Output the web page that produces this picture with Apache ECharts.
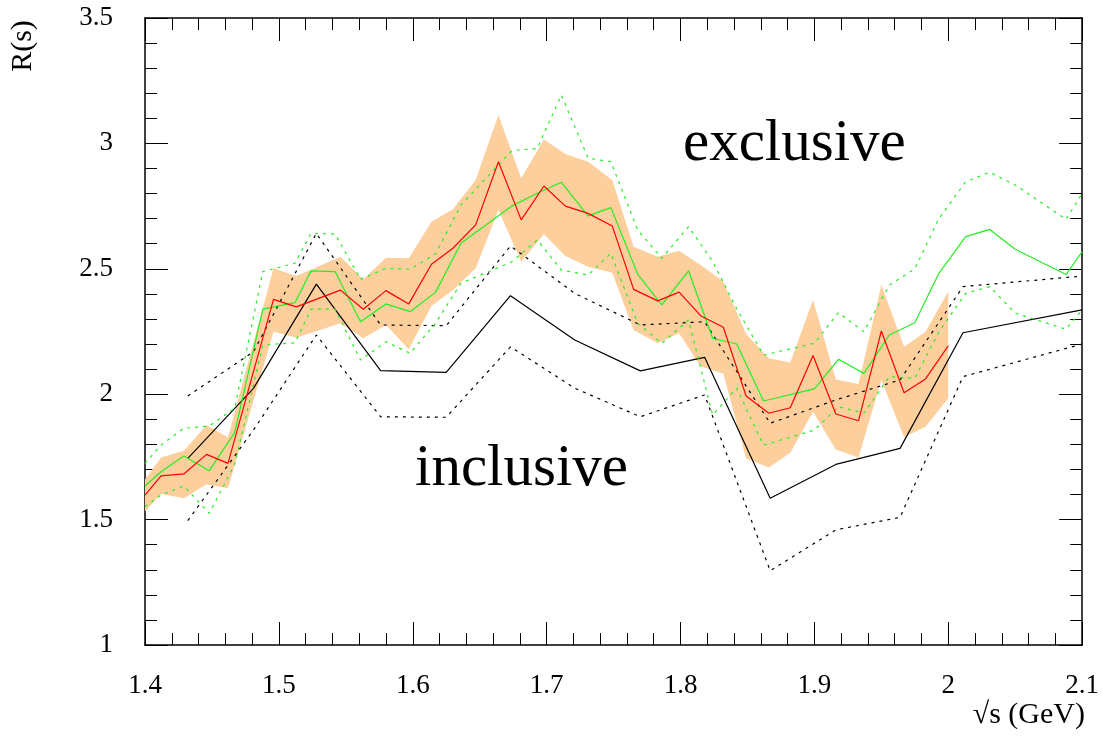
<!DOCTYPE html>
<html>
<head>
<meta charset="utf-8">
<script src="https://cdn.jsdelivr.net/npm/echarts@6/dist/echarts.min.js"></script>
<style>
  html, body { margin: 0; padding: 0; background: #fff; }
  #chart { width: 1102px; height: 737px; }
</style>
</head>
<body>
<div id="chart"></div>
<script>
// exclusive sum: central value (red) and error band (orange)
const bandX = [1.400, 1.412, 1.429, 1.446, 1.462, 1.496, 1.513, 1.546, 1.563, 1.580, 1.597, 1.614, 1.630, 1.647, 1.664, 1.681, 1.698, 1.714, 1.731, 1.749, 1.765, 1.783, 1.799, 1.815, 1.832, 1.849, 1.866, 1.882, 1.899, 1.916, 1.933, 1.950, 1.967, 1.983, 2.000];
const redY = [1.598, 1.674, 1.682, 1.760, 1.724, 2.378, 2.348, 2.415, 2.339, 2.413, 2.360, 2.518, 2.582, 2.675, 2.927, 2.695, 2.830, 2.750, 2.721, 2.671, 2.418, 2.372, 2.407, 2.313, 2.267, 1.993, 1.924, 1.946, 2.154, 1.921, 1.894, 2.252, 2.006, 2.061, 2.193];
const bandUp = [1.660, 1.748, 1.775, 1.876, 1.828, 2.502, 2.471, 2.548, 2.458, 2.544, 2.542, 2.688, 2.737, 2.854, 3.113, 2.861, 3.016, 2.958, 2.927, 2.854, 2.588, 2.548, 2.572, 2.515, 2.449, 2.240, 2.143, 2.126, 2.376, 2.059, 2.041, 2.435, 2.189, 2.249, 2.409];
const bandLow = [1.532, 1.602, 1.585, 1.641, 1.625, 2.249, 2.225, 2.283, 2.223, 2.276, 2.179, 2.352, 2.415, 2.502, 2.734, 2.528, 2.639, 2.551, 2.508, 2.484, 2.256, 2.203, 2.243, 2.110, 2.083, 1.744, 1.708, 1.767, 1.930, 1.780, 1.748, 2.057, 1.828, 1.870, 1.984];

// green curve with its dotted limits
const greenX = [1.400, 1.412, 1.429, 1.448, 1.467, 1.488, 1.512, 1.524, 1.542, 1.561, 1.580, 1.598, 1.617, 1.636, 1.674, 1.693, 1.711, 1.731, 1.748, 1.768, 1.786, 1.806, 1.824, 1.842, 1.862, 1.900, 1.918, 1.937, 1.956, 1.975, 1.993, 2.013, 2.031, 2.050, 2.088, 2.100];
const greenY = [1.634, 1.691, 1.754, 1.695, 1.847, 2.339, 2.365, 2.492, 2.489, 2.289, 2.360, 2.329, 2.406, 2.602, 2.750, 2.801, 2.845, 2.711, 2.744, 2.479, 2.356, 2.492, 2.223, 2.200, 1.973, 2.021, 2.139, 2.083, 2.236, 2.285, 2.482, 2.628, 2.657, 2.578, 2.477, 2.568];
const greenUp = [1.724, 1.797, 1.864, 1.873, 1.944, 2.489, 2.522, 2.641, 2.639, 2.458, 2.502, 2.498, 2.559, 2.754, 2.971, 2.980, 3.193, 2.941, 2.927, 2.655, 2.542, 2.668, 2.530, 2.340, 2.156, 2.203, 2.325, 2.249, 2.435, 2.500, 2.700, 2.847, 2.885, 2.834, 2.697, 2.801];
const greenLow = [1.551, 1.598, 1.634, 1.525, 1.720, 2.196, 2.205, 2.339, 2.339, 2.136, 2.209, 2.163, 2.283, 2.442, 2.528, 2.615, 2.495, 2.475, 2.562, 2.283, 2.203, 2.296, 1.917, 2.024, 1.797, 1.857, 1.950, 1.924, 2.070, 2.063, 2.249, 2.402, 2.429, 2.323, 2.259, 2.336];

// inclusive (black) with dotted limits
const blackX = [1.432, 1.481, 1.528, 1.576, 1.625, 1.673, 1.721, 1.770, 1.818, 1.867, 1.916, 1.964, 2.011, 2.100];
const blackY = [1.744, 2.023, 2.439, 2.094, 2.087, 2.393, 2.216, 2.093, 2.147, 1.585, 1.720, 1.784, 2.245, 2.336];
const blackUp = [1.993, 2.169, 2.641, 2.276, 2.273, 2.591, 2.402, 2.276, 2.289, 1.884, 1.977, 2.057, 2.429, 2.471];
const blackLow = [1.496, 1.857, 2.236, 1.910, 1.908, 2.189, 2.024, 1.910, 1.997, 1.296, 1.459, 1.509, 2.070, 2.200];

const serif = '"Liberation Serif", "DejaVu Serif", serif';

function zip(xs, ys) {
  return xs.map((x, i) => [x, ys[i]]);
}

function lineSeries(xs, ys, color, type, z) {
  return {
    type: 'line',
    data: zip(xs, ys),
    showSymbol: false,
    symbol: 'none',
    silent: true,
    z: z,
    lineStyle: { color: color, width: 1.2, type: type }
  };
}

const tickCommon = {
  axisLine: { show: true, lineStyle: { color: '#000', width: 1.5 } },
  axisTick: { show: true, inside: true, length: 23, lineStyle: { color: '#000', width: 1 } },
  minorTick: { show: true, splitNumber: 5, length: 12, lineStyle: { color: '#000', width: 1 } },
  splitLine: { show: false },
  minorSplitLine: { show: false }
};

const myChart = echarts.init(document.getElementById('chart'), null, { renderer: 'canvas' });

const option = {
  animation: false,
  backgroundColor: '#fff',
  grid: { left: 145, right: 16, top: 18, bottom: 92 },
  xAxis: [
    Object.assign({
      type: 'value', min: 1.4, max: 2.1, interval: 0.1, position: 'bottom',
      axisLabel: {
        margin: 27, color: '#000', fontFamily: serif, fontSize: 27,
        formatter: v => String(Math.round(v * 10) / 10)
      }
    }, tickCommon),
    Object.assign({
      type: 'value', min: 1.4, max: 2.1, interval: 0.1, position: 'top',
      axisLabel: { show: false }
    }, tickCommon)
  ],
  yAxis: [
    Object.assign({
      type: 'value', min: 1, max: 3.5, interval: 0.5, position: 'left',
      axisLabel: {
        margin: 32, color: '#000', fontFamily: serif, fontSize: 27,
        formatter: v => String(v)
      }
    }, tickCommon),
    Object.assign({
      type: 'value', min: 1, max: 3.5, interval: 0.5, position: 'right',
      axisLabel: { show: false }
    }, tickCommon)
  ],
  series: [
    {
      type: 'custom',
      silent: true,
      z: 1,
      clip: true,
      data: [[bandX[0], bandUp[0]]],
      renderItem: function (params, api) {
        const pts = [];
        for (let i = 0; i < bandX.length; i++) pts.push(api.coord([bandX[i], bandUp[i]]));
        for (let i = bandX.length - 1; i >= 0; i--) pts.push(api.coord([bandX[i], bandLow[i]]));
        return { type: 'polygon', shape: { points: pts }, style: { fill: '#fccf9d' } };
      }
    },
    lineSeries(blackX, blackUp, '#000', [3, 5], 2),
    lineSeries(blackX, blackLow, '#000', [3, 5], 2),
    lineSeries(blackX, blackY, '#000', 'solid', 3),
    lineSeries(greenX, greenUp, '#22ee22', [3, 5], 4),
    lineSeries(greenX, greenLow, '#22ee22', [3, 5], 4),
    lineSeries(greenX, greenY, '#22ee22', 'solid', 5),
    lineSeries(bandX, redY, '#ff0000', 'solid', 6)
  ],
  graphic: [
    { type: 'text', left: 683, top: 115, silent: true,
      style: { text: 'exclusive', font: '59px ' + serif, fill: '#000' } },
    { type: 'text', left: 415, top: 440, silent: true,
      style: { text: 'inclusive', font: '59px ' + serif, fill: '#000' } },
    { type: 'text', x: 23, y: 46, rotation: Math.PI / 2, silent: true,
      style: { text: 'R(s)', font: '30px ' + serif, fill: '#000', align: 'center', verticalAlign: 'middle' } },
    { type: 'text', right: 17, top: 700, silent: true,
      style: { text: '√s (GeV)', font: '30px ' + serif, fill: '#000' } }
  ]
};

option && myChart.setOption(option);
</script>
</body>
</html>
